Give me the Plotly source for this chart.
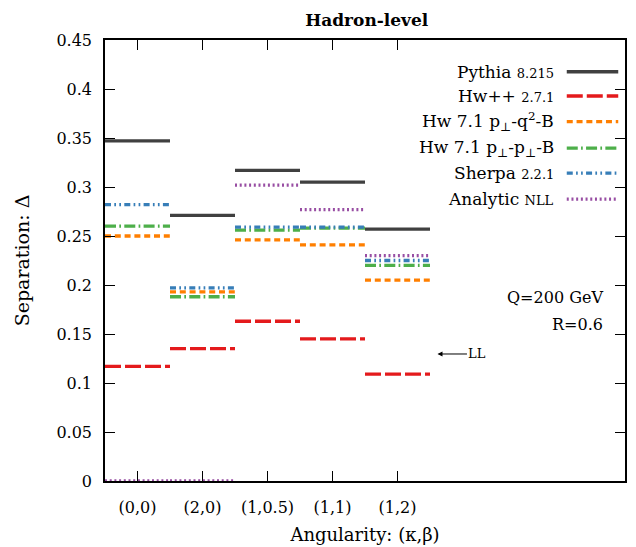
import plotly.graph_objects as go

categories = ["(0,0)", "(2,0)", "(1,0.5)", "(1,1)", "(1,2)"]
pythia = [0.347, 0.271, 0.317, 0.305, 0.257]
hwpp = [0.117, 0.135, 0.163, 0.145, 0.109]
hw_q2 = [0.250, 0.193, 0.246, 0.241, 0.205]
hw_pt = [0.260, 0.188, 0.256, 0.258, 0.220]
sherpa = [0.282, 0.197, 0.259, 0.259, 0.225]
analytic = [0.0, 0.0, 0.302, 0.277, 0.230]

y_ticks = [0, 0.05, 0.1, 0.15, 0.2, 0.25, 0.3, 0.35, 0.4, 0.45]

FONT = "DejaVu Serif"

series = [
    ("Pythia", "8.215", pythia, "#404040", "solid"),
    ("Hw++", "2.7.1", hwpp, "#e41a1c", "16px,4px"),
    ("Hw 7.1 p<sub>⊥</sub>-q<sup>2</sup>-B", "", hw_q2, "#ff7f00", "6px,3.8px"),
    ("Hw 7.1 p<sub>⊥</sub>-p<sub>⊥</sub>-B", "", hw_pt, "#4daf4a", "11px,3.3px,1.7px,3.3px"),
    ("Sherpa", "2.2.1", sherpa, "#377eb8", "6px,3.3px,1.7px,3.3px,1.7px,3.3px"),
    ("Analytic", "NLL", analytic, "#984ea3", "2px,2.7px"),
]

LW = 3.3

fig = go.Figure()
for name, ver, vals, col, dash in series:
    xs, ys = [], []
    for i, v in enumerate(vals):
        xs += [i - 0.5, i + 0.5, None]
        ys += [v, v, None]
    fig.add_trace(go.Scatter(x=xs, y=ys, mode="lines", showlegend=False,
                             line=dict(color=col, width=LW, dash=dash),
                             hoverinfo="skip"))

# manual legend (text on left, sample on right)
row_y = [0.928, 0.873, 0.815, 0.755, 0.698, 0.639]
annotations = []
shapes = []
for (name, ver, vals, col, dash), yy in zip(series, row_y):
    txt = name
    if ver:
        txt += " <span style='font-size:13px'>" + ver + "</span>"
    annotations.append(dict(xref="paper", yref="paper", x=0.867, y=yy,
                            text=txt, showarrow=False, xanchor="right",
                            yanchor="middle", font=dict(family=FONT, size=17, color="black")))
    shapes.append(dict(type="line", xref="paper", yref="paper",
                       x0=0.888, x1=0.987, y0=yy, y1=yy,
                       line=dict(color=col, width=LW, dash=dash)))

annotations += [
    dict(xref="paper", yref="paper", x=0.9615, y=0.415, text="Q=200 GeV",
         showarrow=False, xanchor="right", yanchor="middle",
         font=dict(family=FONT, size=16, color="black")),
    dict(xref="paper", yref="paper", x=0.9615, y=0.356, text="R=0.6",
         showarrow=False, xanchor="right", yanchor="middle",
         font=dict(family=FONT, size=16, color="black")),
    dict(xref="x", yref="y", x=4.615, y=0.1296, text="LL", showarrow=True,
         ax=40, ay=0, arrowhead=2, arrowsize=1, arrowwidth=1, arrowcolor="black",
         font=dict(family=FONT, size=13, color="black")),
]

fig.update_layout(
    width=636, height=547,
    margin=dict(l=97, r=19, t=32, b=74, autoexpand=False),
    paper_bgcolor="white", plot_bgcolor="white",
    font=dict(family=FONT, size=16, color="black"),
    title=dict(text="<b>Hadron-level</b>", x=0.564, xanchor="center", y=0.978,
               yanchor="middle", font=dict(family=FONT, size=17, color="black")),
    annotations=annotations, shapes=shapes,
    showlegend=False,
)
fig.update_xaxes(range=[-0.5, 7.5], tickvals=list(range(len(categories))),
                 ticktext=categories, ticks="inside", ticklen=10, tickwidth=1,
                 tickcolor="black", showline=True, linecolor="black", linewidth=1.5,
                 mirror="ticks", showgrid=False, zeroline=False, layer="below traces",
                 ticklabelstandoff=11, automargin=False,
                 title=dict(text="Angularity: (κ,β)", standoff=12,
                            font=dict(family=FONT, size=18)))
fig.update_yaxes(range=[0, 0.45], tickvals=y_ticks, ticks="inside", ticklen=10,
                 tickwidth=1, tickcolor="black", showline=True, linecolor="black",
                 linewidth=1.5, mirror="ticks", showgrid=False, zeroline=False,
                 ticklabelstandoff=8, automargin=False,
                 title=dict(text="Separation: Δ", standoff=22,
                            font=dict(family=FONT, size=19)))

fig.write_html("out.html")
